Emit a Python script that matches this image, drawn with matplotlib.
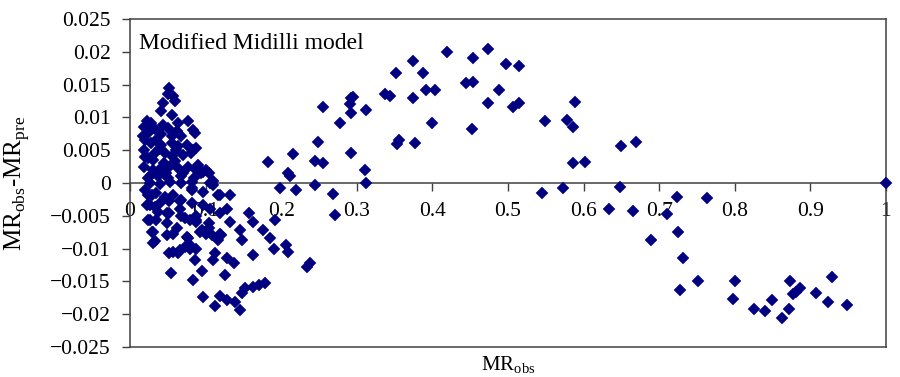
import matplotlib.pyplot as plt

plt.rcParams["font.family"] = ["Liberation Serif", "DejaVu Serif"]
plt.rcParams["mathtext.fontset"] = "custom"
plt.rcParams["mathtext.rm"] = "Liberation Serif"

# residuals, low MR_obs (dense cluster) first
x_low = [0.052, 0.050, 0.057, 0.044, 0.059, 0.041, 0.055, 0.022, 0.028, 0.019,
         0.064, 0.077, 0.044, 0.050, 0.083, 0.086, 0.024, 0.017, 0.024, 0.041,
         0.055, 0.068, 0.020, 0.028, 0.041, 0.055, 0.064, 0.075, 0.088, 0.019,
         0.033, 0.024, 0.020, 0.046, 0.055, 0.061, 0.070, 0.081, 0.084, 0.019,
         0.030, 0.041, 0.052, 0.064, 0.077, 0.090, 0.101, 0.088, 0.097, 0.094,
         0.105, 0.024, 0.037, 0.050, 0.067, 0.085, 0.110, 0.035, 0.030, 0.045,
         0.038, 0.060, 0.048, 0.033, 0.062, 0.070, 0.028, 0.026, 0.040, 0.053,
         0.068, 0.082, 0.106]
y_low = [0.0145, 0.0135, 0.0132, 0.0122, 0.0125, 0.0109, 0.0104, 0.0094, 0.0091, 0.0086,
         0.0091, 0.0094, 0.0089, 0.0084, 0.0081, 0.0076, 0.0076, 0.0071, 0.0078, 0.0074,
         0.0071, 0.0071, 0.0066, 0.0061, 0.0058, 0.0061, 0.0056, 0.0058, 0.0053, 0.0051,
         0.0046, 0.0038, 0.0040, 0.0046, 0.0041, 0.0051, 0.0043, 0.0046, 0.0050, 0.0025,
         0.0020, 0.0023, 0.0025, 0.0023, 0.0025, 0.0028, 0.0020, 0.0020, 0.0017, 0.0015,
         0.0015, 0.0008, 0.0010, 0.0008, 0.0010, 0.0008, 0.0003, 0.0065, 0.0035, 0.0030,
         0.0052, 0.0033, 0.0015, 0.0082, 0.0080, 0.0015, 0.0012, 0.0000, -0.0002, 0.0002,
         0.0000, 0.0002, 0.0000]

x_neg = [0.020, 0.029, 0.022, 0.033, 0.024, 0.035, 0.046, 0.057, 0.026, 0.040,
         0.051, 0.066, 0.068, 0.066, 0.082, 0.097, 0.082, 0.097, 0.117, 0.082,
         0.110, 0.088, 0.073, 0.068, 0.079, 0.088, 0.049, 0.037, 0.051, 0.024,
         0.035, 0.049, 0.026, 0.031, 0.033, 0.029, 0.031, 0.095, 0.104, 0.108,
         0.117, 0.119, 0.077, 0.057, 0.062, 0.049, 0.075, 0.093, 0.101, 0.119,
         0.088, 0.104, 0.119, 0.106, 0.119, 0.066, 0.057, 0.073, 0.079, 0.051,
         0.064, 0.088, 0.079, 0.086, 0.110, 0.112, 0.095, 0.084, 0.054, 0.097,
         0.112, 0.128, 0.139, 0.146, 0.119, 0.152, 0.148, 0.163, 0.171, 0.179]
y_neg = [-0.0011, -0.0018, -0.0034, -0.0036, -0.0018, -0.0016, -0.0021, -0.0018, -0.0034, -0.0031,
         -0.0028, -0.0028, -0.0026, -0.0039, -0.0011, -0.0013, -0.0031, -0.0034, -0.0018, -0.0008,
         -0.0003, -0.0051, -0.0054, -0.0051, -0.0056, -0.0056, -0.0046, -0.0044, -0.0046, -0.0056,
         -0.0056, -0.0061, -0.0056, -0.0074, -0.0089, -0.0074, -0.0092, -0.0072, -0.0069, -0.0079,
         -0.0087, -0.0077, -0.0084, -0.0077, -0.0069, -0.0079, -0.0082, -0.0074, -0.0077, -0.0079,
         -0.0059, -0.0061, -0.0046, -0.0039, -0.0018, -0.0102, -0.0105, -0.0097, -0.0100, -0.0107,
         -0.0107, -0.0100, -0.0094, -0.0117, -0.0117, -0.0107, -0.0134, -0.0148, -0.0137, -0.0174,
         -0.0187, -0.0178, -0.0181, -0.0194, -0.0173, -0.0160, -0.0168, -0.0158, -0.0155, -0.0153]

x_mid = [0.132, 0.128, 0.132, 0.146, 0.148, 0.121, 0.128, 0.137, 0.126, 0.158,
         0.163, 0.176, 0.185, 0.190, 0.207, 0.209, 0.163, 0.192, 0.234, 0.238,
         0.182, 0.215, 0.209, 0.212, 0.198, 0.220, 0.245, 0.255, 0.249, 0.255,
         0.278, 0.293, 0.295, 0.291, 0.293, 0.312, 0.293, 0.311, 0.312, 0.245,
         0.269, 0.271]
y_mid = [-0.0018, -0.0040, -0.0059, -0.0072, -0.0087, -0.0079, -0.0115, -0.0122, -0.0140, -0.0046,
         -0.0059, -0.0072, -0.0084, -0.0100, -0.0094, -0.0105, -0.0110, -0.0056, -0.0128, -0.0122,
         0.0032, 0.0044, 0.0015, 0.0011, -0.0007, -0.0010, 0.0034, 0.0031, 0.0062, 0.0116,
         0.0091, 0.0129, 0.0131, 0.0121, 0.0106, 0.0112, 0.0045, 0.0020, 0.0000, -0.0003,
         -0.0017, -0.0049]

x_high = [0.337, 0.344, 0.352, 0.374, 0.387, 0.392, 0.403, 0.375, 0.400, 0.353,
          0.356, 0.377, 0.419, 0.454, 0.473, 0.498, 0.515, 0.445, 0.454, 0.488,
          0.473, 0.507, 0.514, 0.453, 0.549, 0.578, 0.586, 0.589, 0.586, 0.602,
          0.545, 0.573, 0.649, 0.669, 0.648, 0.634, 0.666, 0.724, 0.710, 0.763,
          0.689, 0.725, 0.732, 0.751, 0.727, 0.800, 0.798, 0.825, 0.840, 0.849,
          0.862, 0.872, 0.873, 0.877, 0.886, 0.881, 0.908, 0.923, 0.929, 0.948,
          1.000]
y_high = [0.0136, 0.0132, 0.0168, 0.0186, 0.0168, 0.0142, 0.0142, 0.0129, 0.0092, 0.0060,
          0.0066, 0.0061, 0.0199, 0.0191, 0.0204, 0.0181, 0.0178, 0.0152, 0.0154, 0.0142,
          0.0122, 0.0116, 0.0122, 0.0083, 0.0095, 0.0096, 0.0086, 0.0124, 0.0030, 0.0032,
          -0.0016, -0.0007, 0.0057, 0.0063, -0.0006, -0.0040, -0.0043, -0.0022, -0.0047, -0.0023,
          -0.0087, -0.0075, -0.0114, -0.0149, -0.0163, -0.0149, -0.0177, -0.0192, -0.0195, -0.0179,
          -0.0206, -0.0192, -0.0150, -0.0169, -0.0160, -0.0166, -0.0167, -0.0181, -0.0143, -0.0186,
          0.0000]

x_ticks = [0, 0.1, 0.2, 0.3, 0.4, 0.5, 0.6, 0.7, 0.8, 0.9, 1]
x_labels = ["0", "0.1", "0.2", "0.3", "0.4", "0.5", "0.6", "0.7", "0.8", "0.9", "1"]
y_ticks = [-0.025, -0.02, -0.015, -0.01, -0.005, 0, 0.005, 0.01, 0.015, 0.02, 0.025]
y_labels = ["\u22120.025", "\u22120.02", "\u22120.015", "\u22120.01", "\u22120.005", "0",
            "0.005", "0.01", "0.015", "0.02", "0.025"]

xs = x_low + x_neg + x_mid + x_high
ys = y_low + y_neg + y_mid + y_high

fig = plt.figure(figsize=(9, 3.77), dpi=100)
ax = fig.add_axes([0.1444, 0.0796, 0.84, 0.87])

ax.plot(xs, ys, "D", color="#000080", ms=6.6, mec="#000080", mew=0.3, clip_on=False, zorder=3)

ax.set_xlim(0, 1)
ax.set_ylim(-0.025, 0.025)

frame = "#404040"
for s in ax.spines.values():
    s.set_color(frame)
    s.set_linewidth(1.1)
ax.spines["bottom"].set_position(("data", 0))
ax.plot([0, 1], [0, 0], transform=ax.transAxes, color=frame, lw=1.1, clip_on=False)

ax.set_xticks(x_ticks)
ax.set_xticklabels(x_labels)
ax.set_yticks(y_ticks)
ax.set_yticklabels(y_labels)
ax.tick_params(axis="x", direction="out", length=6, width=1, color=frame, pad=8, labelsize=15.5)
ax.tick_params(axis="y", direction="out", length=6, width=1, color=frame, pad=8, labelsize=15.5)

ax.text(0.012, 0.925, "Modified Midilli model", transform=ax.transAxes,
        fontsize=17, va="center", ha="left")

ax.set_xlabel(r"MR$_{\mathrm{obs}}$", fontsize=15)
ax.xaxis.set_label_coords(0.5, -0.022)
ax.set_ylabel(r"MR$_{\mathrm{obs}}$-MR$_{\mathrm{pre}}$", fontsize=18)
ax.yaxis.set_label_coords(-0.13, 0.5)

fig.savefig("out.png", dpi=100)
